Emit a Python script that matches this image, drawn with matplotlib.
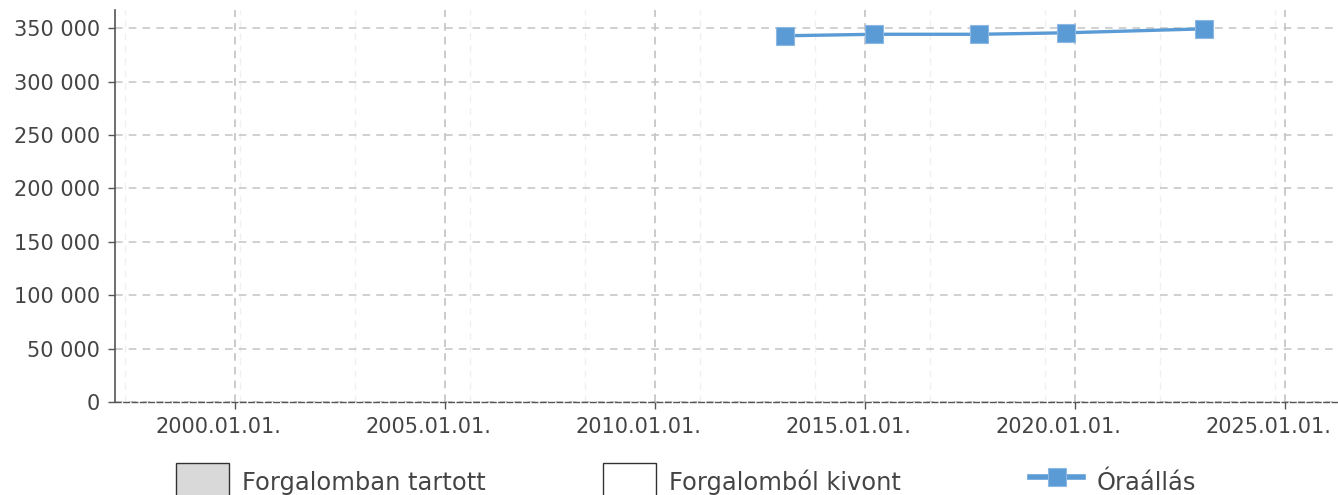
import matplotlib
matplotlib.use("Agg")
import matplotlib.pyplot as plt
import matplotlib.dates as mdates
import matplotlib.transforms as mtransforms
from matplotlib.ticker import FuncFormatter, MultipleLocator, FixedLocator
from matplotlib.patches import Patch
from matplotlib.lines import Line2D
import datetime as dt

# Data
dates = ["2013-02-03", "2015-03-18", "2017-09-20", "2019-10-16", "2023-01-30"]
odometer = [342800, 344200, 344200, 345600, 349300]
legend_labels = ["Forgalomban tartott", "Forgalomból kivont", "Óraállás"]
y_ticks = [0, 50000, 100000, 150000, 200000, 250000, 300000, 350000]

blue = "#5b9bd5"
text_color = "#444444"

plt.rcParams['font.family'] = ['DejaVu Sans']

fig = plt.figure(figsize=(13.38, 4.95), dpi=100)
ax = fig.add_axes([115/1338, 1-402/495, (1337.5-115)/1338, (402-9.5)/495])

x = [dt.datetime.strptime(d, "%Y-%m-%d") for d in dates]
ax.plot(x, odometer, color=blue, linewidth=2.4, marker="s", markersize=13.5,
        markeredgecolor="#8db8e3", markeredgewidth=0.8, zorder=5, clip_on=False)

ax.set_xlim(dt.datetime(1997, 2, 21), dt.datetime(2026, 4, 1))
ax.set_ylim(0, 367400)

ax.yaxis.set_major_locator(FixedLocator(y_ticks))
ax.yaxis.set_major_formatter(FuncFormatter(lambda v, p: format(int(v), ",").replace(",", " ")))
ax.xaxis.set_major_locator(mdates.YearLocator(5))
ax.xaxis.set_major_formatter(mdates.DateFormatter("%Y.%m.%d."))
ax.xaxis.set_minor_locator(MultipleLocator(1000))

ax.grid(axis="y", which="major", color="#c4c4c4", linestyle=(0, (5, 4)), linewidth=1.1)
ax.grid(axis="x", which="major", color="#bdbdbd", linestyle=(0, (5, 4)), linewidth=1.1)
ax.grid(axis="x", which="minor", color="#f0f0f0", linestyle=(0, (5, 4)), linewidth=1.0)
ax.set_axisbelow(True)

for s in ["top", "right"]:
    ax.spines[s].set_visible(False)
ax.spines["left"].set_color("#555555")
ax.spines["left"].set_linewidth(1.2)
ax.spines["bottom"].set_color("#555555")
ax.spines["bottom"].set_linestyle((0, (4, 2)))
ax.spines["bottom"].set_linewidth(1.0)

ax.tick_params(axis="both", which="major", labelsize=15, colors="#555555",
               labelcolor=text_color, length=5, width=1)
ax.tick_params(axis="x", which="major", pad=6)
ax.tick_params(axis="y", which="major", pad=6)
ax.tick_params(axis="x", which="minor", length=0)

fig.canvas.draw()
offset = mtransforms.ScaledTranslation(-17/100, 0, fig.dpi_scale_trans)
for lbl in ax.get_xticklabels():
    lbl.set_transform(lbl.get_transform() + offset)

handles = [
    Patch(facecolor="#d9d9d9", edgecolor="#333333", linewidth=1),
    Patch(facecolor="white", edgecolor="#333333", linewidth=1),
    Line2D([], [], color=blue, linewidth=4, marker="s", markersize=13,
           markeredgecolor="#8db8e3", markeredgewidth=0.8),
]
xs = [176/1338, 603/1338, 1030/1338]
for h, lab, xp in zip(handles, legend_labels, xs):
    fig.legend([h], [lab], loc="upper left", bbox_to_anchor=(xp, 1-463/495),
               frameon=False, fontsize=17.4, borderpad=0, borderaxespad=0,
               handlelength=2.2, handleheight=2.1, handletextpad=0.55,
               labelcolor=text_color)

fig.savefig("out.png", dpi=100)
